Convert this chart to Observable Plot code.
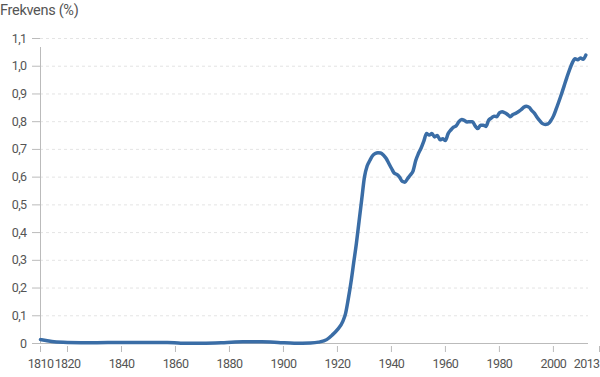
<!DOCTYPE html>
<html>
<head>
<meta charset="utf-8">
<script src="https://cdn.jsdelivr.net/npm/d3@7"></script>
<script src="https://cdn.jsdelivr.net/npm/@observablehq/plot@0.6"></script>
<style>
  body { margin: 0; background: #fff; font-family: Roboto, sans-serif; }
  #title { height: 24px; line-height: 21px; font-size: 14.5px; color: #555; letter-spacing: -0.3px; }
</style>
</head>
<body>
<div id="title">Frekvens (%)</div>
<div id="chart"></div>
<script>
const years = [1810,1812,1815,1820,1830,1840,1850,1857,1862,1870,1878,1885,1892,1898,1904,1910,1913,1916,1918,1920,1922,1923,1924,1925,1926,1927,1928,1929,1930,1931,1932,1933,1934,1935,1936,1937,1938,1939,1940,1941,1942,1943,1944,1945,1946,1947,1948,1949,1950,1951,1952,1953,1954,1955,1956,1957,1958,1959,1960,1961,1962,1963,1964,1965,1966,1967,1968,1969,1970,1971,1972,1973,1974,1975,1976,1977,1978,1979,1980,1981,1982,1983,1984,1985,1986,1987,1988,1989,1990,1991,1992,1993,1994,1995,1996,1997,1998,1999,2000,2001,2002,2003,2004,2005,2006,2007,2008,2009,2010,2011,2012];
const values = [0.014,0.011,0.006,0.004,0.003,0.004,0.004,0.004,0.001,0.001,0.003,0.006,0.006,0.004,0.001,0.002,0.005,0.014,0.03,0.05,0.08,0.108,0.16,0.22,0.29,0.36,0.44,0.52,0.60,0.64,0.66,0.677,0.685,0.688,0.687,0.68,0.668,0.65,0.632,0.615,0.61,0.60,0.585,0.582,0.595,0.608,0.622,0.66,0.685,0.705,0.73,0.757,0.752,0.757,0.745,0.75,0.735,0.738,0.732,0.757,0.77,0.78,0.785,0.8,0.808,0.805,0.799,0.8,0.8,0.785,0.775,0.787,0.787,0.783,0.805,0.813,0.82,0.818,0.832,0.836,0.832,0.826,0.818,0.826,0.83,0.836,0.843,0.852,0.856,0.852,0.84,0.83,0.815,0.803,0.793,0.79,0.792,0.803,0.82,0.845,0.872,0.9,0.93,0.96,0.988,1.012,1.027,1.023,1.03,1.025,1.04];
const xTicks = [1810,1820,1840,1860,1880,1900,1920,1940,1960,1980,2000];
const xEndTick = [2013];
const yTicks = [0,0.1,0.2,0.3,0.4,0.5,0.6,0.7,0.8,0.9,1.0,1.1];

const data = years.map((y, i) => ({year: y, value: values[i]}));
const fmtY = d => d === 0 ? "0" : d.toFixed(1).replace(".", ",");

const chart = Plot.plot({
  width: 600,
  height: 353,
  marginTop: 14,
  marginBottom: 34,
  marginLeft: 40,
  marginRight: 12,
  style: {fontFamily: "Roboto, sans-serif", fontSize: "12.5px", color: "#555", letterSpacing: "-0.6px"},
  x: {domain: [1810, 2013], label: null},
  y: {domain: [0, 1.1], label: null},
  marks: [
    Plot.gridY(yTicks.filter(d => d > 0), {stroke: "#ddd", strokeOpacity: 0.8, strokeDasharray: "3,3"}),
    Plot.axisY(yTicks, {tickSize: 8, tickPadding: 6, tickFormat: fmtY, stroke: "#bbb", strokeOpacity: 1, fill: "#555", label: null}),
    Plot.axisX(xTicks, {tickSize: 6, dy: 3, tickPadding: 7, tickFormat: d => String(d), stroke: "#bbb", strokeOpacity: 1, fill: "#555", label: null}),
    Plot.axisX(xEndTick, {tickSize: 6, dy: 3, tickPadding: 7, tickFormat: d => String(d), stroke: "#bbb", strokeOpacity: 1, fill: "#555", label: null, textAnchor: "end", dx: 11}),
    Plot.ruleY([0], {stroke: "#bbb"}),
    Plot.ruleX([1810], {y1: 0, y2: 1.1, stroke: "#bbb", insetBottom: -9}),
    Plot.line(data, {x: "year", y: "value", stroke: "#3a6da6", strokeWidth: 3.5, curve: "monotone-x"})
  ]
});
document.getElementById("chart").appendChild(chart);
</script>
</body>
</html>
